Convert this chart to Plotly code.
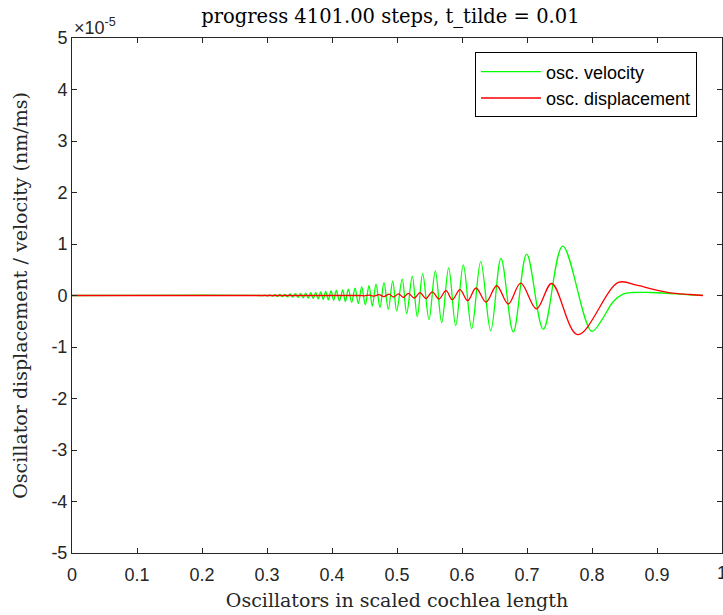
import plotly.graph_objects as go

# Values (y in units of 1e-5)
vel_x = [0.0, 0.29, 0.2929, 0.2968, 0.3006, 0.3045, 0.3083, 0.3122, 0.3160, 0.3198,
         0.3237, 0.3275, 0.3314, 0.3354, 0.3395, 0.3435, 0.3477, 0.3518, 0.3557, 0.3595,
         0.3634, 0.3672, 0.3711, 0.3749, 0.3788, 0.3826, 0.3865, 0.3903, 0.3943, 0.3985,
         0.4025, 0.4066, 0.4114, 0.4165, 0.4205, 0.4251, 0.4303, 0.4354, 0.4405, 0.4457,
         0.4512, 0.4569, 0.4620, 0.4677, 0.4738, 0.4800, 0.4866, 0.4934, 0.4995, 0.5080,
         0.5149, 0.5235, 0.5312, 0.5395, 0.5492, 0.5589, 0.5688, 0.5795, 0.5903, 0.6020,
         0.6149, 0.6288, 0.6442, 0.6600, 0.6789, 0.6995, 0.7251, 0.7549, 0.7995, 0.8154,
         0.8323, 0.8477, 0.8631, 0.8892, 0.9200, 0.9508, 0.9708]
vel_y = [0.0, 0.0, -0.006, 0.008, -0.010, 0.012, -0.014, 0.016, -0.018, 0.019,
         -0.021, 0.023, -0.026, 0.029, -0.033, 0.035, -0.038, 0.041, -0.044, 0.047,
         -0.051, 0.054, -0.058, 0.062, -0.066, 0.070, -0.074, 0.078, -0.083, 0.088,
         -0.092, 0.097, -0.103, 0.109, -0.117, 0.123, -0.134, 0.144, -0.156, 0.167,
         -0.179, 0.191, -0.206, 0.218, -0.233, 0.249, -0.268, 0.284, -0.300, 0.319,
         -0.350, 0.370, -0.409, 0.424, -0.467, 0.479, -0.525, 0.537, -0.584, 0.595,
         -0.642, 0.658, -0.685, 0.720, -0.708, 0.804, -0.656, 0.959, -0.695, -0.467,
         -0.125, 0.025, 0.058, 0.058, 0.039, 0.014, 0.002]

disp_x = [0.0, 0.44, 0.4500, 0.4574, 0.4646, 0.4723, 0.4800, 0.4877, 0.4949, 0.5023,
          0.5100, 0.5174, 0.5266, 0.5354, 0.5446, 0.5543, 0.5646, 0.5754, 0.5851, 0.5969,
          0.6088, 0.6215, 0.6369, 0.6534, 0.6712, 0.6903, 0.7146, 0.7380, 0.7780, 0.8405,
          0.8688, 0.8995, 0.9200, 0.9508, 0.9708]
disp_y = [0.0, 0.0, -0.006, 0.009, -0.013, 0.017, -0.020, 0.025, -0.029, 0.033,
          -0.039, 0.043, -0.049, 0.056, -0.060, 0.072, -0.068, 0.093, -0.082, 0.113,
          -0.101, 0.146, -0.126, 0.189, -0.165, 0.241, -0.261, 0.233, -0.759, 0.253,
          0.200, 0.103, 0.051, 0.019, 0.0]

x_ticks = [0, 0.1, 0.2, 0.3, 0.4, 0.5, 0.6, 0.7, 0.8, 0.9, 1]
x_tick_labels = ["0", "0.1", "0.2", "0.3", "0.4", "0.5", "0.6", "0.7", "0.8", "0.9", "1"]
y_ticks = [-5, -4, -3, -2, -1, 0, 1, 2, 3, 4, 5]
y_tick_labels = ["-5", "-4", "-3", "-2", "-1", "0", "1", "2", "3", "4", "5"]

serif = "DejaVu Serif, Liberation Serif, serif"
sans = "Liberation Sans, Arial, sans-serif"
axcol = "#262626"

fig = go.Figure()
fig.add_trace(go.Scatter(x=vel_x, y=vel_y, mode="lines", name="osc. velocity",
                         line=dict(color="#00FF00", width=1.3, shape="spline", smoothing=1.0)))
fig.add_trace(go.Scatter(x=disp_x, y=disp_y, mode="lines", name="osc. displacement",
                         line=dict(color="#FF0000", width=1.3, shape="spline", smoothing=1.0)))

fig.update_layout(
    width=723, height=615,
    margin=dict(l=72, r=1, t=38, b=62, autoexpand=False),
    paper_bgcolor="white", plot_bgcolor="white",
    title=dict(text="progress 4101.00 steps, t_tilde = 0.01", x=0.54, xanchor="center",
               y=0.984, yanchor="top", automargin=False,
               font=dict(family=serif, size=19.5, color="black")),
    showlegend=True,
    legend=dict(x=0.9615, y=0.972, xanchor="right", yanchor="top",
                bordercolor="black", borderwidth=1, bgcolor="white",
                font=dict(family=sans, size=18, color="black"),
                tracegroupgap=0, itemwidth=60),
    xaxis=dict(range=[0, 1], tickvals=x_ticks, ticktext=x_tick_labels, automargin=False,
               ticks="inside", ticklen=5, tickcolor=axcol, showline=True, linecolor=axcol,
               linewidth=1, mirror="ticks", showgrid=False, zeroline=False,
               ticklabelstandoff=5,
               tickfont=dict(family=sans, size=18, color=axcol),
               title=dict(text="Oscillators in scaled cochlea length", standoff=10,
                          font=dict(family=serif, size=19, color=axcol))),
    yaxis=dict(range=[-5, 5], tickvals=y_ticks, ticktext=y_tick_labels, automargin=False,
               ticks="inside", ticklen=5, tickcolor=axcol, showline=True, linecolor=axcol,
               linewidth=1, mirror="ticks", showgrid=False, zeroline=False,
               tickfont=dict(family=sans, size=18, color=axcol),
               title=dict(text="Oscillator displacement / velocity (nm/ms)", standoff=18,
                          font=dict(family=serif, size=19, color=axcol))),
)

fig.add_annotation(text="×10<sup>-5</sup>", xref="paper", yref="paper", x=0.0, y=1.0,
                   xanchor="left", yanchor="bottom", showarrow=False, yshift=-2,
                   font=dict(family=sans, size=18, color=axcol))
# right-most x tick label, which falls on the figure edge
fig.add_annotation(text="1", xref="x", yref="paper", x=1, y=0, xanchor="center",
                   yanchor="top", showarrow=False, yshift=-8,
                   font=dict(family=sans, size=18, color=axcol))

post = ("document.documentElement.style.margin='0';document.body.style.margin='0';"
        "document.body.style.padding='0';document.body.style.overflow='hidden';"
        "Plotly.relayout('{plot_id}', {width: 723, height: 615});")

fig.write_html("out.html", config={"responsive": False, "displayModeBar": False},
               post_script=post)
